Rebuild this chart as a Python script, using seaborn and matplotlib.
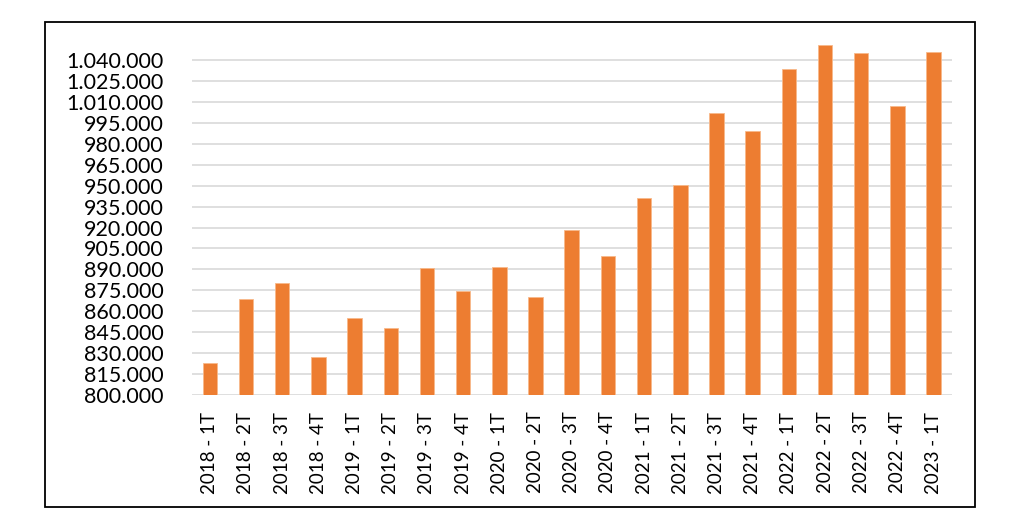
import matplotlib
matplotlib.use("Agg")
import matplotlib.pyplot as plt
from matplotlib.ticker import FuncFormatter, FixedLocator
from matplotlib.patches import Rectangle
import seaborn as sns
import pandas as pd

categories = ["2018 - 1T", "2018 - 2T", "2018 - 3T", "2018 - 4T",
              "2019 - 1T", "2019 - 2T", "2019 - 3T", "2019 - 4T",
              "2020 - 1T", "2020 - 2T", "2020 - 3T", "2020 - 4T",
              "2021 - 1T", "2021 - 2T", "2021 - 3T", "2021 - 4T",
              "2022 - 1T", "2022 - 2T", "2022 - 3T", "2022 - 4T",
              "2023 - 1T"]
values = [822800, 869100, 880100, 827000,
          855300, 848100, 891100, 874600,
          891900, 870300, 918400, 899800,
          941400, 950200, 1002200, 989300,
          1033300, 1050500, 1045000, 1006900,
          1045400]
y_ticks = list(range(800000, 1040001, 15000))

df = pd.DataFrame({"cat": categories, "val": values})

sns.set_theme(style="white")
plt.rcParams["font.family"] = ["Lato", "DejaVu Sans"]

fig = plt.figure(figsize=(10.24, 5.21), dpi=100)
ax = fig.add_axes([0.1872, 0.2418, 0.7422, 0.6832])

sns.barplot(data=df, x="cat", y="val", color="#ED7D31", width=0.4,
            saturation=1, ax=ax, edgecolor="#F8B98A", linewidth=0.6)

ax.set_ylim(800000, 1055000)
ax.yaxis.set_major_locator(FixedLocator(y_ticks))
ax.yaxis.set_major_formatter(FuncFormatter(lambda v, p: f"{v:,.0f}".replace(",", ".")))
ax.grid(axis="y", color="#D9D9D9", linewidth=1.2)
ax.set_axisbelow(True)
for s in ax.spines.values():
    s.set_visible(False)
ax.set_xlabel("")
ax.set_ylabel("")
ax.tick_params(axis="y", length=0, pad=20, labelsize=15.5, colors="#000000")
ax.tick_params(axis="x", length=0, pad=12, labelsize=13.5, colors="#000000")
for lab in ax.get_xticklabels():
    lab.set_rotation(90)
    lab.set_ha("center")
    lab.set_va("top")

fig.patches.append(Rectangle((45 / 1024, 1 - 507 / 521), 930 / 1024, 485 / 521,
                             transform=fig.transFigure, fill=False,
                             edgecolor="#000000", linewidth=1.3))

fig.savefig("out.png", dpi=100)
